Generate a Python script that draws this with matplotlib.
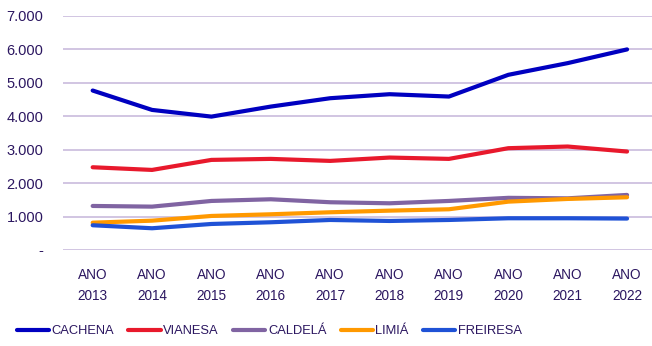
import matplotlib
matplotlib.use("Agg")
import matplotlib.pyplot as plt
from matplotlib.ticker import FuncFormatter

years = ["ANO\n2013", "ANO\n2014", "ANO\n2015", "ANO\n2016", "ANO\n2017",
         "ANO\n2018", "ANO\n2019", "ANO\n2020", "ANO\n2021", "ANO\n2022"]
cachena = [4770, 4190, 3990, 4290, 4540, 4660, 4590, 5240, 5590, 6000]
vianesa = [2475, 2395, 2695, 2725, 2665, 2765, 2725, 3045, 3095, 2945]
caldela = [1317, 1297, 1467, 1517, 1428, 1397, 1467, 1560, 1545, 1647]
limia = [817, 877, 1018, 1068, 1128, 1177, 1218, 1446, 1527, 1577]
freiresa = [740, 650, 778, 829, 898, 868, 898, 949, 949, 940]

series = [("CACHENA", cachena, "#0000C0"),
          ("VIANESA", vianesa, "#E8192C"),
          ("CALDELÁ", caldela, "#8064A2"),
          ("LIMIÁ", limia, "#FF9900"),
          ("FREIRESA", freiresa, "#1F52D6")]

txt = "#2B1660"
plt.rcParams['font.family'] = ["Liberation Sans", "DejaVu Sans"]

fig = plt.figure(figsize=(6.52, 3.46), dpi=100)
ax = fig.add_axes([0.0966, 0.2775, 0.9034, 0.6763])
x = list(range(len(years)))
for name, vals, col in series:
    ax.plot(x, vals, color=col, lw=3, label=name, solid_capstyle="round")

ax.set_xlim(-0.5, 9.42)
ax.set_ylim(0, 7000)
ax.set_yticks(range(0, 7001, 1000))
ax.yaxis.set_major_formatter(FuncFormatter(lambda v, p: "-" if v == 0 else f"{int(v):,}".replace(",", ".")))
ax.set_xticks(x)
ax.set_xticklabels(years, linespacing=1.6)
ax.grid(axis="y", color="#C9BBDD", lw=1.2)
ax.set_axisbelow(True)
for s in ax.spines.values():
    s.set_visible(False)
ax.tick_params(axis="both", length=0, colors=txt)
ax.tick_params(axis="x", pad=13, labelsize=9.8)
ax.tick_params(axis="y", pad=14, labelsize=10.5)

leg = fig.legend(loc="center", bbox_to_anchor=(0.413, 0.042), ncol=5, frameon=False,
                 fontsize=9.3, handlelength=2.5, handletextpad=0.2, columnspacing=1.1)
for t in leg.get_texts():
    t.set_color(txt)

fig.savefig("out.png", dpi=100)
